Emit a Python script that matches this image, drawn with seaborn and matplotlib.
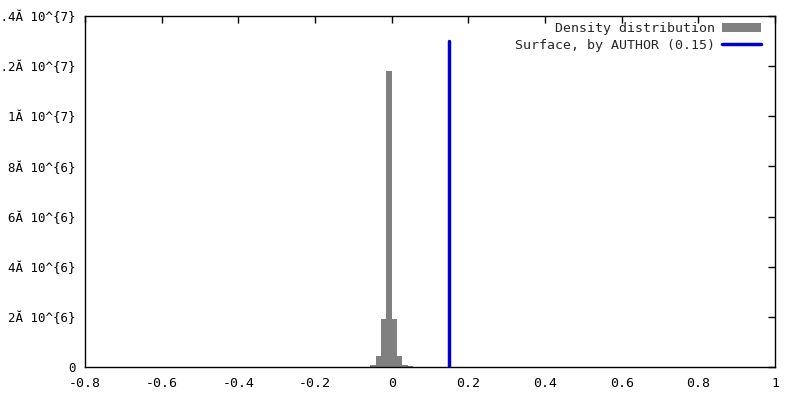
import numpy as np
import pandas as pd
import matplotlib
matplotlib.use("Agg")
import matplotlib.pyplot as plt
import seaborn as sns
from matplotlib.patches import Patch

# ----------------------------------------------------------
# DATA
# ----------------------------------------------------------

bin_edges = [-0.056, -0.042, -0.028, -0.014, 0.0, 0.014, 0.028, 0.042, 0.056]
bin_counts = [0.08e6, 0.44e6, 1.90e6, 11.8e6, 1.92e6, 0.44e6, 0.08e6, 0.05e6]

surface_x = 0.15
surface_top = 1.3e7

x_ticks = [-0.8, -0.6, -0.4, -0.2, 0, 0.2, 0.4, 0.6, 0.8, 1]
x_tick_labels = ["-0.8", "-0.6", "-0.4", "-0.2", "0", "0.2", "0.4", "0.6", "0.8", "1"]
y_ticks = [0, 2e6, 4e6, 6e6, 8e6, 1e7, 1.2e7, 1.4e7]
y_tick_labels = ["0", "2Ă 10^{6}", "4Ă 10^{6}", "6Ă 10^{6}", "8Ă 10^{6}",
                 "1Ă 10^{7}", "1.2Ă 10^{7}", "1.4Ă 10^{7}"]

# ----------------------------------------------------------
# PLOT
# ----------------------------------------------------------

sns.set_style("white")
plt.rcParams["font.family"] = ["DejaVu Sans Mono"]

centers = [(a + b) / 2 for a, b in zip(bin_edges[:-1], bin_edges[1:])]
df = pd.DataFrame({"x": centers, "w": bin_counts})

fig = plt.figure(figsize=(8, 4), dpi=100)
ax = fig.add_axes([85 / 800, 33 / 400, 690 / 800, 351 / 400])

sns.histplot(
    data=df,
    x="x",
    weights="w",
    bins=bin_edges,
    color="#808080",
    alpha=1,
    linewidth=0,
    ax=ax
)

line, = ax.plot(
    [surface_x, surface_x],
    [0, surface_top],
    color="#0000d0",
    linewidth=2.5
)

ax.set_xlim(-0.8, 1)
ax.set_ylim(0, 1.4e7)
ax.set_xticks(x_ticks)
ax.set_xticklabels(x_tick_labels)
ax.set_yticks(y_ticks)
ax.set_yticklabels(y_tick_labels)
ax.set_xlabel("")
ax.set_ylabel("")

ax.tick_params(
    direction="in",
    length=5,
    width=1,
    top=True,
    right=True,
    colors="black"
)
ax.tick_params(axis="x", labelsize=9.5, pad=7)
ax.tick_params(axis="y", labelsize=9.0, pad=6.5)
for spine in ax.spines.values():
    spine.set_color("black")
    spine.set_linewidth(1)

hist_handle = Patch(facecolor="#808080", edgecolor="none")
ax.legend(
    [hist_handle, line],
    ["Density distribution", "Surface, by AUTHOR (0.15)"],
    loc="upper right",
    bbox_to_anchor=(0.988, 1.0),
    frameon=False,
    markerfirst=False,
    fontsize=9.5,
    handlelength=2.95,
    handleheight=0.7,
    handletextpad=0.55,
    borderaxespad=0.1,
    borderpad=0.35,
    labelspacing=0.3
)

plt.savefig("out.png", dpi=100)
